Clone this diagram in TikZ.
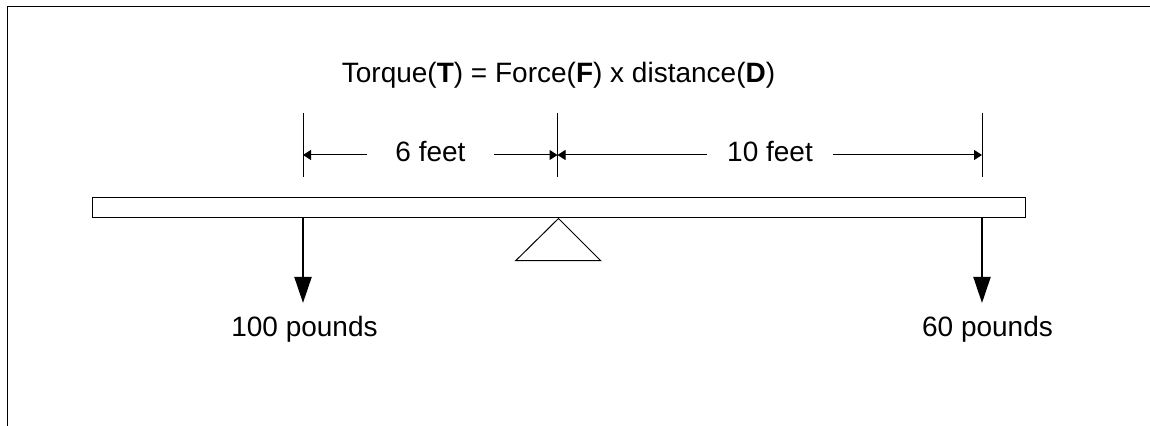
\documentclass[tikz,border=0pt]{standalone}
\usepackage{fontspec}
\setmainfont{Liberation Sans}
\usetikzlibrary{arrows.meta}

\begin{document}
\begin{tikzpicture}[x=0.5pt, y=-0.5pt,
    txt/.style={font=\fontsize{14}{16}\selectfont, inner sep=0pt},
    dimlbl/.style={txt, inner ysep=0pt},
    dim/.style={line width=0.5pt, -{Triangle[length=4pt, width=5pt]}},
    load/.style={line width=1pt, -{Triangle[length=13pt, width=8.5pt]}}]
  \useasboundingbox (0,0) rectangle (1150,426);
  \draw[line width=0.8pt] (7.5,426) -- (7.5,6.5) -- (1150,6.5);
  \draw
    (558.5,83) node[txt, anchor=base] (title) {Torque(\textbf{T}) = Force(\textbf{F}) x distance(\textbf{D})}
    (558.5,208) node[draw, line width=0.5pt, minimum width=466.5pt, minimum height=10pt, inner sep=0pt] (beam) {}
    (430.5,162) node[dimlbl, anchor=base, inner xsep=14pt] (sixft) {6 feet}
    (770,162) node[dimlbl, anchor=base, inner xsep=10pt] (tenft) {10 feet}
    (304.5,303) node[txt, anchor=north, inner ysep=6.3pt] (lbs100) {100 pounds}
    (987.5,303) node[txt, anchor=north, inner ysep=6.3pt] (lbs60) {60 pounds};
  % dimension marks
  \coordinate (markA) at (303,155);
  \coordinate (markB) at (557.5,155);
  \coordinate (markC) at (982,155);
  \foreach \m in {markA, markB, markC}
    \draw[line width=0.5pt] (\m) ++(0,-42) -- ++(0,64);
  % fulcrum
  \draw[line width=0.5pt] (beam.south) -- (515.7,260.7) -- (600.7,260.7) -- cycle;
  \begin{scope}
    \draw[dim] (sixft.west |- markA) to (markA);
    \draw[dim] (sixft.east |- markB) to (markB);
    \draw[dim] (tenft.west |- markB) to (markB);
    \draw[dim] (tenft.east |- markC) to (markC);
    \draw[load] (beam.south -| markA) to (lbs100.north -| markA);
    \draw[load] (beam.south -| markC) to (lbs60.north -| markC);
  \end{scope}
\end{tikzpicture}
\end{document}
